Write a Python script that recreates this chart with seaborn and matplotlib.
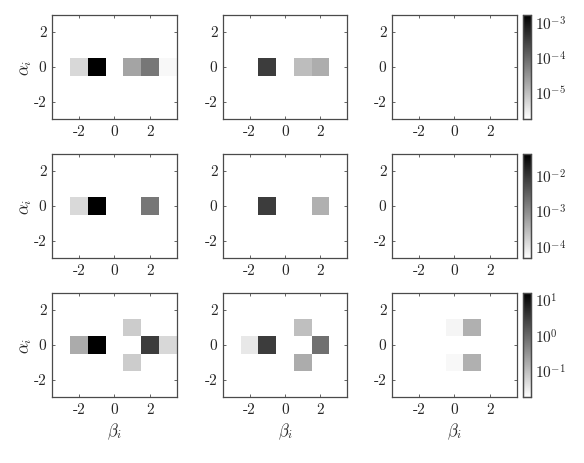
import numpy as np
import pandas as pd
import matplotlib
matplotlib.use("Agg")
import matplotlib.pyplot as plt
import matplotlib.ticker as mticker
from matplotlib.colors import LogNorm
import seaborn as sns

sns.set_theme(style="white")
plt.rcParams["font.family"] = ["cmr10", "DejaVu Serif"]
plt.rcParams["mathtext.fontset"] = "cm"
plt.rcParams["axes.unicode_minus"] = False

# grid of cells: beta along x, alpha along y
betas = list(range(-3, 4))
alphas = list(range(3, -4, -1))

# per-row colour limits (log scale)
row_vmin = [1.7e-6, 4.5e-5, 0.018]
row_vmax = [1.6e-3, 4.0e-2, 15.0]

# non-empty cells per panel: (alpha, beta) -> value
r1c1 = {(0, -2): 4.9e-6, (0, -1): 1.6e-3, (0, 1): 1.95e-5, (0, 2): 6.5e-5, (0, 3): 2.1e-6}
r1c2 = {(0, -1): 3.2e-4, (0, 1): 1.0e-5, (0, 2): 1.55e-5}
r1c3 = {}
r2c1 = {(0, -2): 1.26e-4, (0, -1): 4.0e-2, (0, 2): 1.66e-3}
r2c2 = {(0, -1): 8.1e-3, (0, 2): 3.7e-4}
r2c3 = {}
r3c1 = {(0, -2): 0.166, (0, -1): 15.0, (0, 2): 3.1, (0, 3): 0.051, (1, 1): 0.069, (-1, 1): 0.069}
r3c2 = {(0, -2): 0.033, (0, -1): 3.1, (0, 2): 0.78, (1, 1): 0.098, (-1, 1): 0.16}
r3c3 = {(1, 0): 0.024, (1, 1): 0.145, (-1, 0): 0.022, (-1, 1): 0.145}

panels = [[r1c1, r1c2, r1c3], [r2c1, r2c2, r2c3], [r3c1, r3c2, r3c3]]

tick_vals = [-2, 0, 2]
edge = "#4a4a4a"

fig = plt.figure(figsize=(5.84, 4.64), dpi=100)
col_x = [0.0890, 0.3818, 0.6712]
col_w = [0.2140, 0.2123, 0.2140]
row_y = [0.7414, 0.4418, 0.1422]
row_h = 0.2241

for r in range(3):
    norm = LogNorm(vmin=row_vmin[r], vmax=row_vmax[r])
    cax = fig.add_axes([0.8955, row_y[r], 0.0130, row_h])
    for c in range(3):
        ax = fig.add_axes([col_x[c], row_y[r], col_w[c], row_h])
        df = pd.DataFrame(np.nan, index=alphas, columns=betas)
        for (a, b), v in panels[r][c].items():
            df.loc[a, b] = v
        sns.heatmap(df, ax=ax, cmap="gray_r", norm=norm,
                    vmin=row_vmin[r], vmax=row_vmax[r],
                    cbar=(c == 2), cbar_ax=cax if c == 2 else None)
        ax.set_xlim(0, 7)
        ax.set_ylim(6.5, 0.5)
        ax.set_xticks([betas.index(t) + 0.5 for t in tick_vals])
        ax.set_xticklabels([str(t) for t in tick_vals], rotation=0)
        ax.set_yticks([alphas.index(t) + 0.5 for t in tick_vals])
        ax.set_yticklabels([str(t) for t in tick_vals], rotation=0)
        for s in ax.spines.values():
            s.set_visible(True)
            s.set_color(edge)
            s.set_linewidth(0.9)
        ax.tick_params(direction="in", length=2.5, width=0.6, color=edge,
                       top=True, right=True, bottom=True, left=True,
                       labelsize=11, labelcolor="#262626", pad=4)
        ax.set_xlabel("")
        ax.set_ylabel("")
        if c == 0:
            ax.set_ylabel(r"$\alpha_i$", fontsize=12, color="#262626", labelpad=0)
        if r == 2:
            ax.set_xlabel(r"$\beta_i$", fontsize=12, color="#262626", labelpad=3)

    cax.yaxis.set_major_formatter(
        mticker.FuncFormatter(lambda v, p: rf"$10^{{{int(round(np.log10(v)))}}}$"))
    cax.yaxis.set_minor_formatter(mticker.NullFormatter())
    cax.tick_params(which="both", direction="in", color=edge, labelsize=11,
                    labelcolor="#262626", length=2, width=0.5)
    cax.tick_params(which="minor", length=1.2)
    for s in cax.spines.values():
        s.set_visible(True)
        s.set_color(edge)
        s.set_linewidth(0.9)

fig.savefig("out.png", dpi=100)
